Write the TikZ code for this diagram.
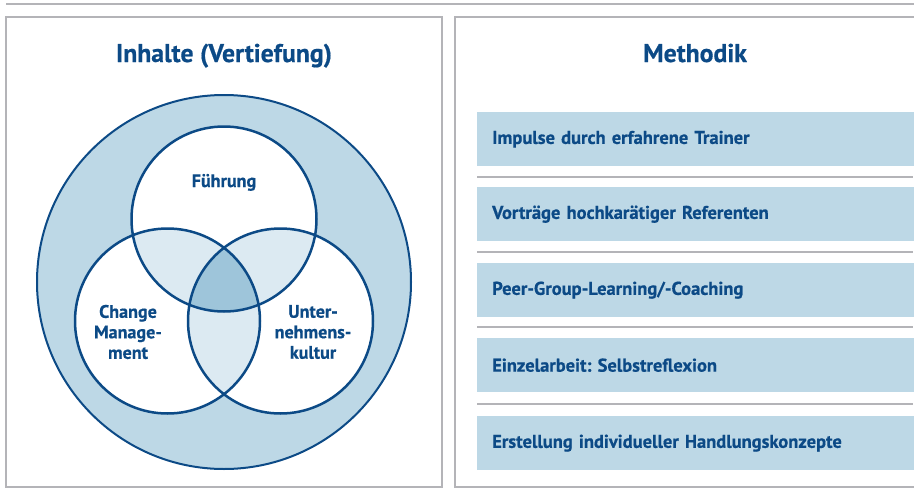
\documentclass[tikz,border=0pt]{standalone}
\usepackage{fontspec}
\setmainfont{PT Sans}[BoldFeatures={FakeBold=0.6}]
\frenchspacing
\definecolor{dunkelblau}{RGB}{12,74,134}
\definecolor{hellblau}{RGB}{189,216,230}
\definecolor{blassblau}{RGB}{220,234,242}
\definecolor{mittelblau}{RGB}{158,197,218}
\definecolor{grau}{RGB}{180,180,184}
\begin{document}
\begin{tikzpicture}[x=1pt, y=-1pt,
    rahmen/.style={draw=grau, line width=2pt},
    kreis/.style={draw=dunkelblau, line width=2.5pt},
    titel/.style={font=\bfseries\fontsize{25.7}{30}\selectfont, text=dunkelblau, anchor=base},
    kreistext/.style={font=\bfseries\fontsize{18.1}{20.5}\selectfont, text=dunkelblau, align=center},
    feld/.style={fill=hellblau, anchor=north west, minimum height=54pt, text width=410pt,
        inner xsep=15pt, inner ysep=0pt, align=left,
        font=\bfseries\fontsize{18.5}{21}\selectfont, text=dunkelblau}]
    \useasboundingbox (0, 0) rectangle (914, 493);
    \draw[rahmen] (6, 4) -- (920, 4);
    \draw[rahmen] (6, 17) rectangle (442, 487);
    \draw[rahmen] (930, 487) -- (455, 487) -- (455, 17) -- (930, 17);
    \node[titel] (titel1) at (224, 62) {Inhalte (Vertiefung)};
    \node[titel] (titel2) at (695, 62) {Methodik};
    % Venn-Diagramm
    \coordinate (mitte) at (224, 282);
    \coordinate (f) at (224, 219);
    \coordinate (c) at (167.5, 321);
    \coordinate (u) at (280.5, 321);
    \fill[hellblau] (mitte) circle (187pt);
    \fill[white] (f) circle (92.5pt) (c) circle (92.5pt) (u) circle (92.5pt);
    \begin{scope}
        \clip (f) circle (92.5pt);
        \fill[blassblau] (c) circle (92.5pt) (u) circle (92.5pt);
    \end{scope}
    \begin{scope}
        \clip (c) circle (92.5pt);
        \fill[blassblau] (u) circle (92.5pt);
    \end{scope}
    \begin{scope}
        \clip (f) circle (92.5pt);
        \clip (c) circle (92.5pt);
        \fill[mittelblau] (u) circle (92.5pt);
    \end{scope}
    \draw[draw=dunkelblau, line width=2pt] (mitte) circle (187pt);
    \draw[kreis] (f) circle (92.5pt);
    \draw[kreis] (c) circle (92.5pt);
    \draw[kreis] (u) circle (92.5pt);
    \node[kreistext, anchor=base] (fuehrung) at (224, 187) {Führung};
    \node[kreistext] (change) at (128, 332) {Change\\Manage-\\ment};
    \node[kreistext] (kultur) at (313, 332) {Unter-\\nehmens-\\kultur};
    % Methodik
    \node[feld] (m1) at (477, 112) {Impulse durch erfahrene Trainer};
    \node[feld] (m2) at (477, 187) {Vorträge hochkarätiger Referenten};
    \node[feld] (m3) at (477, 263) {Peer-Group-Learning/-Coaching};
    \node[feld] (m4) at (477, 338) {Einzelarbeit: Selbstreflexion};
    \node[feld] (m5) at (477, 416) {Erstellung individueller Handlungskonzepte};
    \draw[rahmen] (477, 177) -- (913, 177);
    \draw[rahmen] (477, 252) -- (913, 252);
    \draw[rahmen] (477, 327) -- (913, 327);
    \draw[rahmen] (477, 404) -- (913, 404);
\end{tikzpicture}
\end{document}
